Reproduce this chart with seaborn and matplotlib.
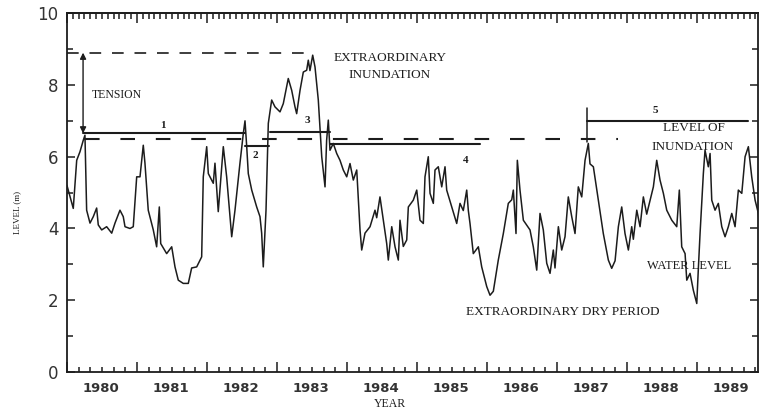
import numpy as np
import pandas as pd
import matplotlib
matplotlib.use("Agg")
import matplotlib.pyplot as plt
import matplotlib.transforms as mtransforms
import seaborn as sns

# ------------------------------------------
# data
# ------------------------------------------

water_year = [1980.000, 1980.090, 1980.139, 1980.186, 1980.233, 1980.257, 1980.281, 1980.329, 1980.376, 1980.424,
              1980.447, 1980.496, 1980.567, 1980.639, 1980.686, 1980.757, 1980.804, 1980.829, 1980.900, 1980.947,
              1980.996, 1981.043, 1981.090, 1981.114, 1981.161, 1981.233, 1981.281, 1981.319, 1981.339, 1981.424,
              1981.496, 1981.543, 1981.590, 1981.661, 1981.733, 1981.781, 1981.853, 1981.924, 1981.947, 1981.996,
              1982.019, 1982.090, 1982.114, 1982.161, 1982.233, 1982.281, 1982.353, 1982.400, 1982.471, 1982.519,
              1982.543, 1982.567, 1982.590, 1982.639, 1982.710, 1982.757, 1982.781, 1982.804, 1982.843, 1982.876,
              1982.924, 1982.971, 1983.043, 1983.090, 1983.161, 1983.210, 1983.257, 1983.281, 1983.329, 1983.376,
              1983.424, 1983.447, 1983.471, 1983.510, 1983.543, 1983.590, 1983.639, 1983.686, 1983.709, 1983.733,
              1983.757, 1983.804, 1983.853, 1983.900, 1983.947, 1983.996, 1984.043, 1984.090, 1984.139, 1984.186,
              1984.210, 1984.257, 1984.329, 1984.400, 1984.424, 1984.471, 1984.519, 1984.567, 1984.590, 1984.639,
              1984.686, 1984.733, 1984.757, 1984.804, 1984.853, 1984.876, 1984.947, 1984.996, 1985.043, 1985.090,
              1985.114, 1985.161, 1985.186, 1985.233, 1985.257, 1985.304, 1985.353, 1985.400, 1985.424, 1985.496,
              1985.567, 1985.614, 1985.661, 1985.710, 1985.733, 1985.757, 1985.804, 1985.876, 1985.924, 1985.996,
              1986.043, 1986.090, 1986.161, 1986.233, 1986.304, 1986.353, 1986.376, 1986.414, 1986.433, 1986.471,
              1986.519, 1986.614, 1986.661, 1986.710, 1986.757, 1986.804, 1986.853, 1986.900, 1986.947, 1986.971,
              1987.019, 1987.067, 1987.114, 1987.161, 1987.210, 1987.257, 1987.304, 1987.353, 1987.400, 1987.447,
              1987.471, 1987.519, 1987.590, 1987.661, 1987.733, 1987.781, 1987.829, 1987.876, 1987.924, 1987.971,
              1988.019, 1988.067, 1988.090, 1988.139, 1988.186, 1988.233, 1988.281, 1988.329, 1988.376, 1988.424,
              1988.471, 1988.519, 1988.567, 1988.639, 1988.710, 1988.747, 1988.781, 1988.829, 1988.853, 1988.900,
              1988.947, 1988.996, 1989.019, 1989.043, 1989.090, 1989.114, 1989.161, 1989.186, 1989.210, 1989.257,
              1989.304, 1989.353, 1989.400, 1989.447, 1989.496, 1989.543, 1989.590, 1989.639, 1989.686, 1989.733,
              1989.781, 1989.829, 1989.876, 1989.913]

water_level = [5.2, 4.56, 5.9, 6.14, 6.46, 6.6, 4.51, 4.15, 4.33, 4.57,
               4.1, 3.96, 4.05, 3.87, 4.15, 4.51, 4.33, 4.05, 4.0, 4.05,
               5.44, 5.44, 6.32, 5.82, 4.51, 3.96, 3.49, 4.6, 3.58, 3.3,
               3.49, 2.93, 2.56, 2.47, 2.47, 2.9, 2.93, 3.21, 5.44, 6.28,
               5.53, 5.26, 5.82, 4.47, 6.28, 5.44, 3.77, 4.51, 5.82, 6.65,
               7.0, 6.3, 5.53, 5.07, 4.6, 4.33, 3.87, 2.93, 4.5, 6.93,
               7.58, 7.39, 7.25, 7.48, 8.18, 7.85, 7.39, 7.2, 7.85, 8.36,
               8.41, 8.69, 8.4, 8.83, 8.5, 7.58, 6.0, 5.16, 6.46, 7.02,
               6.18, 6.37, 6.09, 5.9, 5.63, 5.44, 5.81, 5.35, 5.63, 3.96,
               3.4, 3.87, 4.05, 4.51, 4.3, 4.88, 4.23, 3.58, 3.12, 4.05,
               3.49, 3.12, 4.23, 3.5, 3.68, 4.6, 4.79, 5.07, 4.23, 4.14,
               5.44, 6.0, 4.98, 4.7, 5.63, 5.72, 5.16, 5.72, 5.07, 4.6,
               4.14, 4.7, 4.5, 5.07, 4.5, 4.14, 3.3, 3.49, 2.93, 2.38,
               2.14, 2.25, 3.12, 3.86, 4.7, 4.8, 5.07, 3.86, 5.9, 5.07,
               4.23, 3.96, 3.49, 2.84, 4.42, 3.96, 3.03, 2.75, 3.4, 2.9,
               4.05, 3.4, 3.77, 4.88, 4.33, 3.86, 5.16, 4.88, 5.9, 6.37,
               5.8, 5.72, 4.79, 3.86, 3.12, 2.89, 3.1, 4.05, 4.6, 3.86,
               3.4, 4.05, 3.7, 4.51, 4.05, 4.88, 4.4, 4.79, 5.16, 5.9,
               5.35, 4.98, 4.51, 4.23, 4.05, 5.07, 3.49, 3.3, 2.56, 2.75,
               2.28, 1.91, 2.9, 3.86, 5.53, 6.18, 5.72, 6.09, 4.79, 4.51,
               4.7, 4.05, 3.77, 4.05, 4.42, 4.05, 5.07, 4.98, 6.0, 6.28,
               5.44, 4.79, 4.42, 3.6]

# periods 1..5 (solid steps)
period_label = ["1", "2", "3", "4", "5"]
period_start = [1980.23, 1982.54, 1982.90, 1983.76, 1987.43]
period_end = [1982.54, 1982.88, 1983.76, 1985.90, 1989.73]
period_level = [6.65, 6.30, 6.70, 6.35, 7.00]
period_label_x = [1981.37, 1982.69, 1983.43, 1985.69, 1988.40]
period_label_y = [6.88, 6.04, 7.02, 5.90, 7.30]

inundation_level = 6.5
inundation_span = [1980.26, 1987.87]
extra_level = 8.9
extra_span = [1980.0, 1983.5]
tension_x = 1980.23

years = [1980, 1981, 1982, 1983, 1984, 1985, 1986, 1987, 1988, 1989]

# ------------------------------------------
# plot
# ------------------------------------------

sns.set_style("ticks")
plt.rcParams["font.family"] = ["DejaVu Sans"]

ink = "#1c1c1c"
serif = ["Liberation Serif", "DejaVu Serif"]

fig = plt.figure(figsize=(7.61, 4.12), dpi=100)
ax = fig.add_axes([0.088, 0.097, 0.908, 0.871])

df = pd.DataFrame({"year": water_year, "level": water_level})
sns.lineplot(data=df, x="year", y="level", ax=ax, color=ink, lw=1.1,
             estimator=None, sort=False)

# top dashed line (extraordinary inundation)
ax.plot(extra_span, [extra_level, extra_level], color=ink, lw=1.2,
        linestyle=(0, (7, 6.5)))
# level of inundation
ax.plot(inundation_span, [inundation_level, inundation_level], color=ink, lw=1.5,
        linestyle=(0, (7, 10)))

# periods
for lab, x0, x1, lv, lx, ly in zip(period_label, period_start, period_end,
                                   period_level, period_label_x, period_label_y):
    ax.plot([x0, x1], [lv, lv], color=ink, lw=1.5)
    ax.text(lx, ly, lab, family=serif, fontsize=8, fontweight="bold",
            ha="center", va="center", color=ink)
# start marker of period 5
ax.plot([period_start[4], period_start[4]], [7.35, 6.4], color=ink, lw=1.1)

# tension arrow
ax.annotate("", xy=(tension_x, period_level[0]), xytext=(tension_x, extra_level),
            arrowprops=dict(arrowstyle="<|-|>", color=ink, lw=1.0,
                            mutation_scale=9, shrinkA=0, shrinkB=0))

ax.text(1980.36, 7.72, "TENSION", family=serif, fontsize=8.5, color=ink, va="center")
ax.text(1984.61, 8.75, "EXTRAORDINARY", family=serif, fontsize=9.5, color=ink,
        ha="center", va="center")
ax.text(1984.61, 8.27, "INUNDATION", family=serif, fontsize=9.5, color=ink,
        ha="center", va="center")
ax.text(1988.95, 6.80, "LEVEL OF", family=serif, fontsize=9.5, color=ink,
        ha="center", va="center")
ax.text(1988.93, 6.27, "INUNDATION", family=serif, fontsize=9.5, color=ink,
        ha="center", va="center")
ax.text(1988.88, 2.95, "WATER LEVEL", family=serif, fontsize=9, color=ink,
        ha="center", va="center")
ax.text(1987.08, 1.67, "EXTRAORDINARY DRY PERIOD", family=serif, fontsize=9.5,
        color=ink, ha="center", va="center")

# axes
ax.set_xlim(1980.0, 1989.87)
ax.set_ylim(0, 10)
ax.set_xlabel("")
ax.set_ylabel("")

ax.set_xticks(years)
ax.set_xticks(np.arange(1980, 1990, 1 / 6), minor=True)
ax.set_xticklabels([])
ax.set_yticks([0, 2, 4, 6, 8, 10])
ax.set_yticks([1, 3, 5, 7, 9], minor=True)
ax.tick_params(axis="both", which="both", direction="in", color=ink, width=1.1)
ax.tick_params(axis="x", which="major", length=7)
ax.tick_params(axis="x", which="minor", length=3.5)
ax.tick_params(axis="y", which="major", length=6, right=True, labelsize=12,
               labelcolor="#333333", pad=6)
ax.tick_params(axis="y", which="minor", length=4, right=True)

# monthly ticks on the top edge
top = ax.secondary_xaxis("top")
top.set_xticks(years)
top.set_xticks(np.arange(1980, 1990, 1 / 12), minor=True)
top.set_xticklabels([])
top.tick_params(which="both", direction="in", color=ink, width=1.1)
top.tick_params(which="major", length=7)
top.tick_params(which="minor", length=4)

for s in ax.spines.values():
    s.set_color(ink)
    s.set_linewidth(1.3)
top.spines["top"].set_linewidth(1.3)

# year labels centred between year ticks
trans = mtransforms.blended_transform_factory(ax.transData, ax.transAxes)
for yr in years:
    ax.text(yr + 0.48, -0.045, str(yr), transform=trans, ha="center", va="center",
            fontsize=9.5, color="#333333", fontweight="bold")

fig.text(390 / 761, 1 - 404 / 412, "YEAR", family=serif, fontsize=8.5, color=ink,
         ha="center", va="center")
fig.text(17 / 761, 1 - 212 / 412, "LEVEL (m)", family=serif, fontsize=6.5, color=ink,
         ha="center", va="center", rotation=90)

fig.savefig("out.png", dpi=100)
